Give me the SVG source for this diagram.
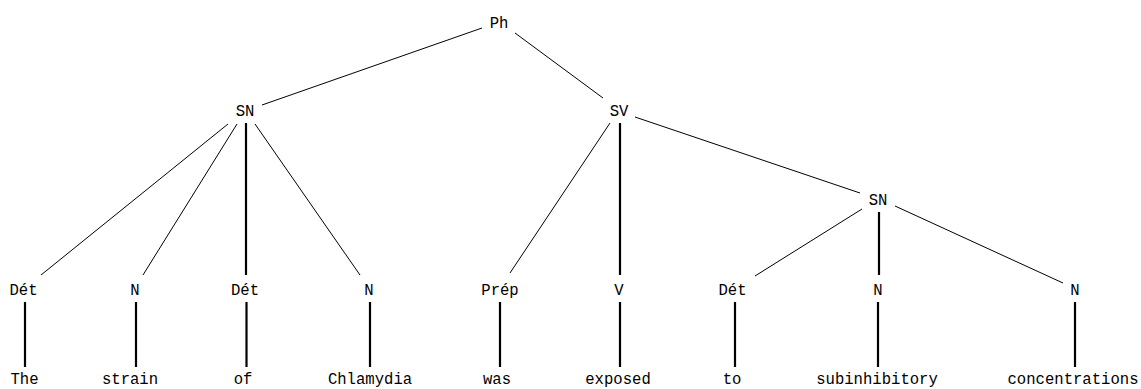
<svg xmlns="http://www.w3.org/2000/svg" width="1141" height="389" viewBox="0 0 1141 389">
<style>
text{font-family:"Liberation Mono","DejaVu Sans Mono",monospace;font-size:15.6px;fill:#000;text-anchor:middle}
.thin{stroke:#000;stroke-width:1;fill:none}
.thick{stroke:#000;stroke-width:2.2;fill:none}
</style>
<rect width="1141" height="389" fill="#fff"/>
<g id="connectors">
<line class="thin" x1="482" y1="28" x2="262" y2="105"/>
<line class="thin" x1="515" y1="33" x2="603" y2="98"/>
<line class="thin" x1="228" y1="124" x2="41" y2="275"/>
<line class="thin" x1="237" y1="124" x2="143" y2="275"/>
<line class="thick" x1="246" y1="123" x2="246" y2="275"/>
<line class="thin" x1="255" y1="124" x2="360" y2="275"/>
<line class="thin" x1="610" y1="123" x2="510" y2="273"/>
<line class="thick" x1="620" y1="123" x2="620" y2="275"/>
<line class="thin" x1="635" y1="117" x2="860" y2="193"/>
<line class="thin" x1="862" y1="209" x2="755" y2="276"/>
<line class="thick" x1="879" y1="212" x2="879" y2="275"/>
<line class="thin" x1="895" y1="206" x2="1063" y2="283"/>
<line class="thick" x1="25" y1="302" x2="25" y2="367"/>
<line class="thick" x1="136" y1="302" x2="136" y2="367"/>
<line class="thick" x1="246.5" y1="302" x2="246.5" y2="367"/>
<line class="thick" x1="370" y1="302" x2="370" y2="367"/>
<line class="thick" x1="500" y1="302" x2="500" y2="367"/>
<line class="thick" x1="620" y1="302" x2="620" y2="367"/>
<line class="thick" x1="735" y1="302" x2="735" y2="367"/>
<line class="thick" x1="878" y1="302" x2="878" y2="367"/>
<line class="thick" x1="1075" y1="302" x2="1075" y2="367"/>
</g>
<g id="n-ph"><text x="499" y="28">Ph</text></g>
<g id="n-sn1"><text x="245" y="116">SN</text></g>
<g id="n-sv"><text x="619" y="116">SV</text></g>
<g id="n-sn2"><text x="878" y="205">SN</text></g>
<g id="n-det1"><text x="23.5" y="295">Dét</text></g>
<g id="n-n1"><text x="135" y="295">N</text></g>
<g id="n-det2"><text x="245" y="295">Dét</text></g>
<g id="n-n2"><text x="369" y="295">N</text></g>
<g id="n-prep"><text x="500" y="295">Prép</text></g>
<g id="n-v"><text x="619" y="295">V</text></g>
<g id="n-det3"><text x="732.5" y="295">Dét</text></g>
<g id="n-n3"><text x="878" y="295">N</text></g>
<g id="n-n4"><text x="1075" y="295">N</text></g>
<g id="w-the"><text x="24.5" y="384">The</text></g>
<g id="w-strain"><text x="130" y="384">strain</text></g>
<g id="w-of"><text x="243" y="384">of</text></g>
<g id="w-chlamydia"><text x="370" y="384">Chlamydia</text></g>
<g id="w-was"><text x="497" y="384">was</text></g>
<g id="w-exposed"><text x="618" y="384">exposed</text></g>
<g id="w-to"><text x="732" y="384">to</text></g>
<g id="w-subinhibitory"><text x="877" y="384">subinhibitory</text></g>
<g id="w-concentrations"><text x="1073" y="384">concentrations</text></g>
</svg>
